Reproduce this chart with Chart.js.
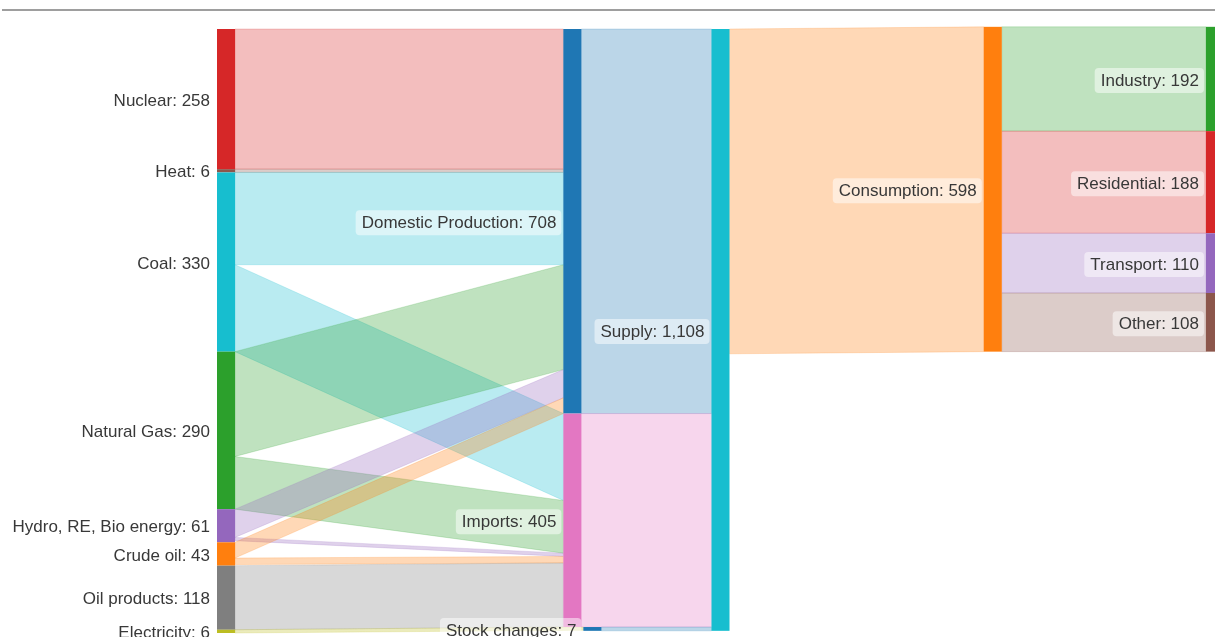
<!DOCTYPE html>
<html>
<head>
<meta charset="utf-8">
<script src="https://cdn.jsdelivr.net/npm/chart.js@4"></script>
<style>
  html, body { margin: 0; padding: 0; background: #fff; overflow: hidden; }
  #wrap { position: relative; width: 1240px; height: 637px; }
  #topline { position: absolute; left: 2px; top: 9px; width: 1240px; height: 2px; background: #9e9e9e; }
</style>
</head>
<body>
<div id="wrap">
  <canvas id="mychart" width="1240" height="637"></canvas>
  <div id="topline"></div>
</div>
<script>
// -------- DATA --------------------
const nodeNames = ['Nuclear', 'Heat', 'Coal', 'Natural Gas', 'Hydro, RE, Bio energy', 'Crude oil', 'Oil products', 'Electricity',
  'Domestic Production', 'Imports', 'Stock changes', 'Supply', 'Consumption',
  'Industry', 'Residential', 'Transport', 'Other'];
const nodeValues = [258, 6, 330, 290, 61, 43, 118, 6, 708, 405, 7, 1108, 598, 192, 188, 110, 108];

const linkFrom = ['Nuclear', 'Heat', 'Coal', 'Coal', 'Natural Gas', 'Natural Gas', 'Hydro, RE, Bio energy', 'Hydro, RE, Bio energy',
  'Crude oil', 'Crude oil', 'Oil products', 'Electricity',
  'Domestic Production', 'Imports', 'Stock changes', 'Supply',
  'Consumption', 'Consumption', 'Consumption', 'Consumption'];
const linkTo = ['Domestic Production', 'Domestic Production', 'Domestic Production', 'Imports', 'Domestic Production', 'Imports', 'Domestic Production', 'Imports',
  'Domestic Production', 'Imports', 'Imports', 'Stock changes',
  'Supply', 'Supply', 'Supply', 'Consumption',
  'Industry', 'Residential', 'Transport', 'Other'];
const linkValues = [258, 6, 170, 160, 193, 97, 52, 6, 29, 12, 118, 6, 708, 393, 7, 598, 192, 188, 110, 108];

// -------- LAYOUT / STYLE --------------------
const nodeGroup = [0, 0, 0, 0, 0, 0, 0, 0, 1, 1, 1, 2, 3, 4, 4, 4, 4];
const groupX = [0, 346, 494, 766, 988];
const groupYShift = [0, 0, 0, -4, -4];
const nodeShift = { 'Stock changes': 20 };
const nodeWidth = 18;
const nodeColors = {
  'Nuclear': '#d62728', 'Heat': '#8c564b', 'Coal': '#17becf', 'Natural Gas': '#2ca02c',
  'Hydro, RE, Bio energy': '#9467bd', 'Crude oil': '#ff7f0e', 'Oil products': '#7f7f7f', 'Electricity': '#bcbd22',
  'Domestic Production': '#1f77b4', 'Imports': '#e377c2', 'Stock changes': '#1f77b4', 'Supply': '#17becf',
  'Consumption': '#ff7f0e', 'Industry': '#2ca02c', 'Residential': '#d62728', 'Transport': '#9467bd', 'Other': '#8c564b'
};
// links leaving these nodes take the colour of their target
const colorByTarget = ['Supply', 'Consumption'];

function rgba(hex, a) {
  const n = parseInt(hex.slice(1), 16);
  return 'rgba(' + (n >> 16) + ',' + ((n >> 8) & 255) + ',' + (n & 255) + ',' + a + ')';
}

function roundRect(ctx, x, y, w, h, r) {
  ctx.beginPath();
  ctx.moveTo(x + r, y);
  ctx.arcTo(x + w, y, x + w, y + h, r);
  ctx.arcTo(x + w, y + h, x, y + h, r);
  ctx.arcTo(x, y + h, x, y, r);
  ctx.arcTo(x, y, x + w, y, r);
  ctx.closePath();
}

const sankeyPlugin = {
  id: 'sankey',
  afterDatasetsDraw(chart) {
    const ctx = chart.ctx;
    const xs = chart.scales.x, ys = chart.scales.y;
    const idx = (n) => nodeNames.indexOf(n);

    // node sizes = max(in, out); source column sized by its stated totals
    const inSum = nodeNames.map(() => 0), outSum = nodeNames.map(() => 0);
    linkValues.forEach((v, i) => {
      outSum[idx(linkFrom[i])] += v;
      inSum[idx(linkTo[i])] += v;
    });
    const size = nodeNames.map((n, i) => Math.max(inSum[i], outSum[i], nodeGroup[i] === 0 ? nodeValues[i] : 0));

    // stack nodes in their group
    const groupTop = {};
    const top = [], left = [];
    nodeNames.forEach((n, i) => {
      const g = nodeGroup[i];
      const t = groupTop[g] !== undefined ? groupTop[g] : groupYShift[g];
      top[i] = t;
      groupTop[g] = t + size[i];
      left[i] = groupX[g] + (nodeShift[n] || 0);
    });

    // links
    const outOff = top.slice(), inOff = top.slice();
    ctx.save();
    linkValues.forEach((v, i) => {
      const s = idx(linkFrom[i]), t = idx(linkTo[i]);
      const x0 = xs.getPixelForValue(left[s] + nodeWidth);
      const x1 = xs.getPixelForValue(left[t]);
      const y0a = ys.getPixelForValue(outOff[s]), y0b = ys.getPixelForValue(outOff[s] + v);
      const y1a = ys.getPixelForValue(inOff[t]), y1b = ys.getPixelForValue(inOff[t] + v);
      outOff[s] += v;
      inOff[t] += v;
      const col = colorByTarget.includes(linkFrom[i]) ? nodeColors[linkTo[i]] : nodeColors[linkFrom[i]];
      ctx.beginPath();
      ctx.moveTo(x0, y0a);
      ctx.lineTo(x1, y1a);
      ctx.lineTo(x1, y1b);
      ctx.lineTo(x0, y0b);
      ctx.closePath();
      ctx.fillStyle = rgba(col, 0.3);
      ctx.fill();
      ctx.strokeStyle = rgba(col, 0.2);
      ctx.lineWidth = 1;
      ctx.stroke();
    });

    // nodes
    nodeNames.forEach((n, i) => {
      const x0 = xs.getPixelForValue(left[i]);
      const x1 = xs.getPixelForValue(left[i] + nodeWidth);
      const y0 = ys.getPixelForValue(top[i]);
      const y1 = ys.getPixelForValue(top[i] + size[i]);
      ctx.fillStyle = nodeColors[n];
      ctx.fillRect(x0, y0, x1 - x0, y1 - y0);
    });

    // labels
    ctx.font = '17px "Liberation Sans", Arial, sans-serif';
    ctx.textBaseline = 'middle';
    ctx.textAlign = 'right';
    nodeNames.forEach((n, i) => {
      const text = n + ': ' + nodeValues[i].toLocaleString('en-US');
      const xr = xs.getPixelForValue(left[i]) - 7;
      const yc = (ys.getPixelForValue(top[i]) + ys.getPixelForValue(top[i] + size[i])) / 2 + 2;
      const w = ctx.measureText(text).width;
      ctx.fillStyle = 'rgba(255,255,255,0.5)';
      roundRect(ctx, xr - w - 6, yc - 13, w + 11, 25, 4);
      ctx.fill();
      ctx.fillStyle = '#383838';
      ctx.fillText(text, xr, yc);
    });
    ctx.restore();
  }
};

// -------- CHART --------------------
const mychart = document.getElementById('mychart');
const chart = new Chart(mychart, {
  type: 'scatter',
  data: { datasets: [] },
  options: {
    responsive: false,
    animation: false,
    layout: { padding: { left: 217, right: 16, top: 29, bottom: 4 } },
    plugins: {
      legend: { display: false },
      tooltip: { enabled: false }
    },
    scales: {
      x: { type: 'linear', min: 0, max: 1006, display: false },
      y: { type: 'linear', min: 0, max: 1112, reverse: true, display: false }
    }
  },
  plugins: [sankeyPlugin]
});
</script>
</body>
</html>
